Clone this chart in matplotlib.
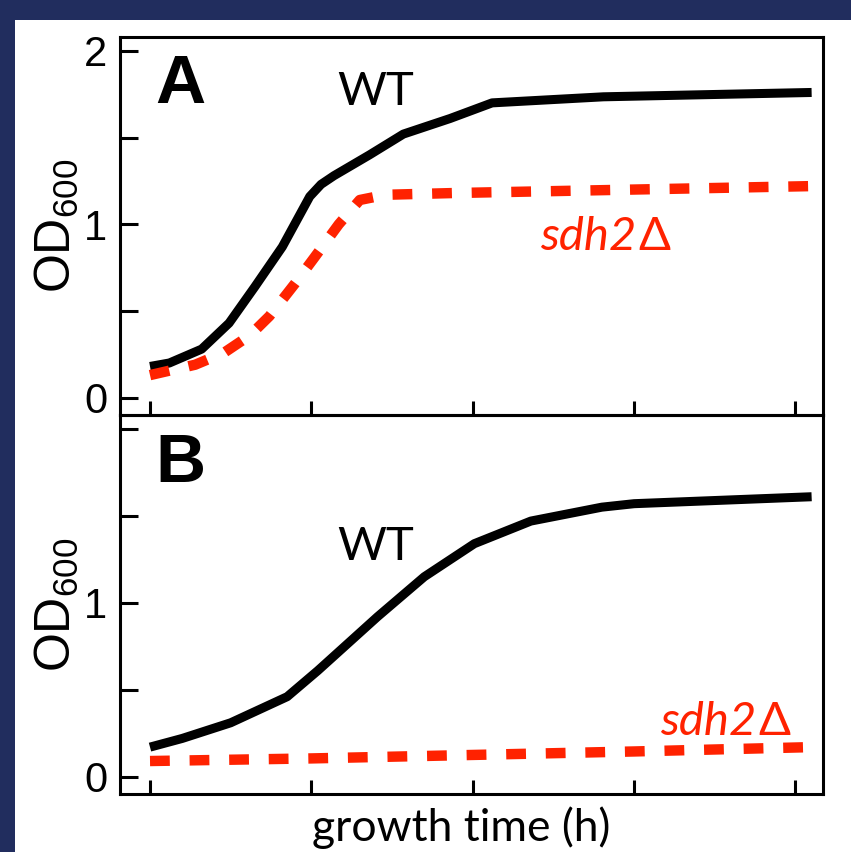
import matplotlib
matplotlib.use("Agg")
import matplotlib.pyplot as plt
from matplotlib.patches import Rectangle

# panel A: growth in glucose-type medium
t_wt_a = [0, 1.2, 3.2, 4.9, 6.5, 8.2, 9.9, 10.6, 11.4, 13.6, 15.7, 18.6, 21.2, 28.1, 41]
od_wt_a = [0.18, 0.20, 0.28, 0.43, 0.64, 0.87, 1.16, 1.23, 1.28, 1.40, 1.52, 1.61, 1.70, 1.735, 1.76]
t_sdh_a = [0, 2.8, 4.6, 6.2, 7.4, 9.0, 10.2, 11.7, 13.0, 14.6, 18.8, 41]
od_sdh_a = [0.13, 0.19, 0.26, 0.36, 0.47, 0.66, 0.81, 1.00, 1.14, 1.17, 1.18, 1.22]

# panel B
t_wt_b = [0, 2.0, 5.0, 8.5, 10.4, 14.1, 17.0, 20.1, 23.6, 28.0, 30.0, 41]
od_wt_b = [0.17, 0.22, 0.31, 0.46, 0.61, 0.92, 1.15, 1.34, 1.47, 1.55, 1.57, 1.61]
t_sdh_b = [0, 10, 20, 30, 41]
od_sdh_b = [0.09, 0.105, 0.125, 0.145, 0.17]

panel_labels = ["A", "B"]
x_ticks = [0, 10, 20, 30, 40]
y_ticks = [0, 0.5, 1, 1.5, 2]

navy = "#212d5e"
red = "#ff2200"
num_font = ["Liberation Sans Narrow", "Liberation Sans", "DejaVu Sans"]
text_font = ["Lato", "Open Sans", "DejaVu Sans"]

plt.rcParams["mathtext.fontset"] = "custom"
plt.rcParams["mathtext.rm"] = "Liberation Sans"

fig = plt.figure(figsize=(8.51, 8.52), dpi=100, facecolor=navy)
fig.patches.append(Rectangle((15 / 851, 0), 1, 1 - 20 / 852, transform=fig.transFigure,
                             facecolor="white", edgecolor="none", zorder=-5))

ax_a = fig.add_axes([0.141, 0.5129, 0.826, 0.4437])
ax_b = fig.add_axes([0.141, 0.068, 0.826, 0.4449], sharex=ax_a)

data = [
    (ax_a, t_wt_a, od_wt_a, t_sdh_a, od_sdh_a, ["0", "", "1", "", "2"]),
    (ax_b, t_wt_b, od_wt_b, t_sdh_b, od_sdh_b, ["0", "", "1", "", ""]),
]

for ax, tw, ow, ts, os_, ylabs in data:
    ax.plot(tw, ow, color="black", lw=6.5, solid_capstyle="butt", solid_joinstyle="round")
    ax.plot(ts, os_, color=red, lw=7.5, dashes=(1.9, 1.9), dash_capstyle="butt")
    ax.set_xlim(-1.86, 41.7)
    ax.set_ylim(-0.1, 2.08)
    ax.set_xticks(x_ticks)
    ax.set_yticks(y_ticks)
    ax.set_yticklabels(ylabs)
    ax.tick_params(axis="x", direction="in", length=10, width=2.2, labelbottom=False)
    ax.tick_params(axis="y", direction="in", length=13, width=2.2, pad=9, labelsize=30)
    for lab in ax.get_yticklabels():
        lab.set_family(num_font)
    for sp in ax.spines.values():
        sp.set_linewidth(2.2)
    ax.set_facecolor("none")
    ax.text(-0.0896, 0.5, r"OD$_{\mathrm{600}}$", transform=ax.transAxes, rotation=90,
            ha="center", va="center", fontsize=36, family=num_font)

ax_a.text(0.050, 0.825, panel_labels[0], transform=ax_a.transAxes, fontsize=50,
          fontweight="bold", family=num_font, va="baseline")
ax_b.text(0.050, 0.823, panel_labels[1], transform=ax_b.transAxes, fontsize=50,
          fontweight="bold", family=num_font, va="baseline")

ax_a.text(0.309, 0.820, "WT", transform=ax_a.transAxes, fontsize=34, family=text_font,
          va="baseline")
ax_b.text(0.309, 0.617, "WT", transform=ax_b.transAxes, fontsize=34, family=text_font,
          va="baseline")


def mutant_label(ax, x, y):
    # italic gene name, upright delta
    t = ax.text(x, y, "sdh2", transform=ax.transAxes, fontsize=34, family=text_font,
                style="italic", color=red, va="baseline")
    ax.annotate("Δ", xy=(1, 0), xycoords=t, xytext=(2, 0), textcoords="offset points",
                fontsize=34, family=text_font, color=red, va="bottom", ha="left")


mutant_label(ax_a, 0.597, 0.437)
mutant_label(ax_b, 0.768, 0.156)

fig.text(0.5417, 0.013, "growth time (h)", ha="center", va="baseline", fontsize=32,
         family=text_font)

fig.savefig("out.png", dpi=100, facecolor=navy)
